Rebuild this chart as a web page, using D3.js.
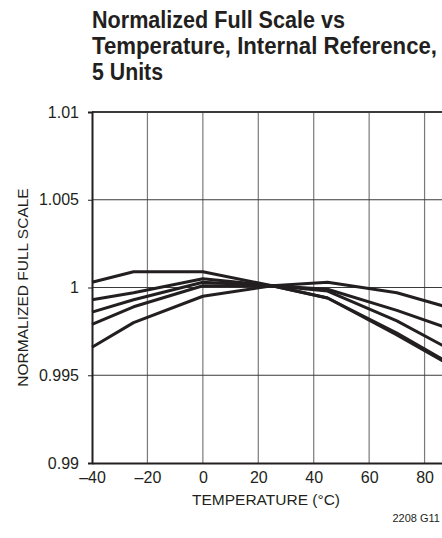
<!DOCTYPE html>
<html>
<head>
<meta charset="utf-8">
<script src="https://cdn.jsdelivr.net/npm/d3@7"></script>
<style>
  body { margin: 0; background: #fff; overflow: hidden; }
  text { font-family: "Liberation Sans", Arial, sans-serif; fill: #231f20; }
  .title { font-family: "Liberation Sans Narrow", "Arial Narrow", "Liberation Sans", sans-serif; font-weight: bold; font-size: 23px; }
</style>
</head>
<body>
<svg width="442" height="538"></svg>
<script>
// temperatures (°C) where the curves bend
const temps = [-40, -25, 0, 25, 45, 70, 90];

// five units, normalized full scale
const unit1 = [1.0003, 1.0009, 1.0009, 1.0001, 0.9994, 0.9973, 0.9955];
const unit2 = [0.9993, 0.9997, 1.0005, 1.0001, 0.9994, 0.9974, 0.9956];
const unit3 = [0.9986, 0.9993, 1.0003, 1.0001, 0.9998, 0.9981, 0.9964];
const unit4 = [0.9979, 0.9989, 1.0001, 1.0001, 0.9999, 0.9987, 0.9976];
const unit5 = [0.9966, 0.9980, 0.9995, 1.0001, 1.0003, 0.9997, 0.9988];
const units = [unit1, unit2, unit3, unit4, unit5];

const xTicks = [-40, -20, 0, 20, 40, 60, 80];
const xLabels = ["\u201340", "\u201320", "0", "20", "40", "60", "80"];
const yTicks = [0.99, 0.995, 1, 1.005, 1.01];
const yLabels = ["0.99", "0.995", "1", "1.005", "1.01"];

const titleLines = ["Normalized Full Scale vs", "Temperature, Internal Reference,", "5 Units"];
const titleWidths = [253, 345, 71];

var svg = d3.select("svg");

var x = d3.scaleLinear()
    .domain([-40, 100])
    .range([92, 480]);

var y = d3.scaleLinear()
    .domain([0.99, 1.01])
    .range([463, 112]);

// title: squeezed to the condensed look of the original
var sx = 0.9;
svg.append("g")
  .selectAll("text")
  .data(titleLines)
  .enter().append("text")
    .attr("class", "title")
    .attr("transform", function(d, i) {
      return "translate(92," + (28.3 + i * 25.8) + ") scale(" + sx + ",1)";
    })
    .attr("textLength", function(d, i) { return titleWidths[i] / sx; })
    .attr("lengthAdjust", "spacingAndGlyphs")
    .text(function(d) { return d; });

// grid
var grid = svg.append("g");
grid.selectAll("line.v")
  .data(xTicks.slice(1))
  .enter().append("line")
    .attr("x1", function(d) { return x(d); })
    .attr("x2", function(d) { return x(d); })
    .attr("y1", y(1.01))
    .attr("y2", y(0.99))
    .attr("stroke", "#7a7a7a")
    .attr("stroke-width", 1.2);

grid.selectAll("line.h")
  .data([0.995, 1, 1.005])
  .enter().append("line")
    .attr("x1", x(-40))
    .attr("x2", x(100))
    .attr("y1", function(d) { return y(d); })
    .attr("y2", function(d) { return y(d); })
    .attr("stroke", "#3a3a3a")
    .attr("stroke-width", 1);

// top frame
grid.append("line")
    .attr("x1", x(-40)).attr("x2", x(100))
    .attr("y1", y(1.01)).attr("y2", y(1.01))
    .attr("stroke", "#3a3a3a")
    .attr("stroke-width", 2);

// curves
var line = d3.line()
    .x(function(d, i) { return x(temps[i]); })
    .y(function(d) { return y(d); });

svg.append("g")
  .selectAll("path")
  .data(units)
  .enter().append("path")
    .attr("d", line)
    .attr("fill", "none")
    .attr("stroke", "#231f20")
    .attr("stroke-width", 3)
    .attr("stroke-linejoin", "round");

// axes
var yAxis = svg.append("g")
    .attr("transform", "translate(" + x(-40) + ",0)")
    .call(d3.axisLeft(y)
      .tickValues(yTicks)
      .tickSize(4)
      .tickPadding(9)
      .tickFormat(function(d, i) { return yLabels[i]; }));
yAxis.select(".domain").attr("stroke", "#231f20").attr("stroke-width", 2);
yAxis.selectAll(".tick line").attr("stroke", "#231f20");
yAxis.selectAll("text").style("font-size", "16px");

var xAxis = svg.append("g")
    .attr("transform", "translate(0," + y(0.99) + ")")
    .call(d3.axisBottom(x)
      .tickValues(xTicks)
      .tickSize(0)
      .tickPadding(9)
      .tickFormat(function(d, i) { return xLabels[i]; }));
xAxis.select(".domain").attr("stroke", "#231f20").attr("stroke-width", 2);
xAxis.selectAll("text").style("font-size", "16px");

// axis titles
svg.append("text")
    .attr("x", 266)
    .attr("y", 505)
    .attr("text-anchor", "middle")
    .style("font-size", "15.5px")
    .text("TEMPERATURE (\u00B0C)");

svg.append("text")
    .attr("transform", "translate(28," + y(1) + ") rotate(-90)")
    .attr("text-anchor", "middle")
    .style("font-size", "15.5px")
    .text("NORMALIZED FULL SCALE");

svg.append("text")
    .attr("x", 440)
    .attr("y", 522)
    .attr("text-anchor", "end")
    .style("font-size", "11px")
    .text("2208 G11");
</script>
</body>
</html>
